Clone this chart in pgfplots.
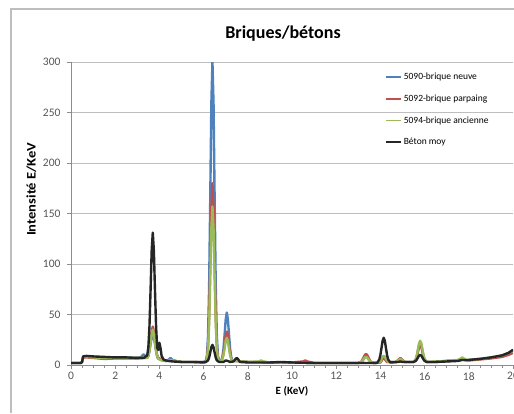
\documentclass[border=0pt]{standalone}
\usepackage{pgfplots}
\pgfplotsset{compat=1.18}
\usepackage{fontspec}
\setmainfont{Carlito}
\definecolor{cblue}{HTML}{4F81BD}
\definecolor{cred}{HTML}{C0504D}
\definecolor{cgreen}{HTML}{9BBB59}
\definecolor{cblack}{HTML}{262626}
\definecolor{gridc}{HTML}{BEBEBE}
\definecolor{axc}{HTML}{8C8C8C}
\definecolor{txtc}{HTML}{555555}
\begin{document}
\begin{tikzpicture}[x=1pt,y=1pt]
\begin{axis}[
  at={(71pt,48pt)}, anchor=south west,
  scale only axis, width=442pt, height=303pt,
  xmin=0, xmax=20, ymin=0, ymax=300,
  xtick={0,2,...,20}, ytick={0,50,...,300},
  minor x tick num=3,
  axis lines=left, axis line style={-, axc, line width=0.8pt},
  tick align=outside, major tick length=4pt, minor tick length=3pt,
  tick style={axc, line width=0.6pt},
  ymajorgrids, grid style={gridc, line width=1pt},
  /pgf/number format/assume math mode=true,
  ticklabel style={font=\fontsize{11.5}{13}\selectfont, text=txtc},
  yticklabel style={xshift=-3pt},
  xlabel={\textbf{E (KeV)}}, ylabel={\textbf{Intensité E/KeV}},
  label style={font=\fontsize{11}{13}\selectfont, text=black},
  xlabel style={yshift=1pt},
  ylabel style={font=\fontsize{13}{15}\selectfont, xscale=1.12, at={(ticklabel cs:0.58)}},
  legend style={draw=none, fill=none, at={(0.71,0.97)}, anchor=north west,
    font=\fontsize{9.5}{11}\selectfont, row sep=9.5pt, inner sep=0pt,
    /tikz/every even column/.append style={column sep=2pt}},
  legend cell align=left,
  legend image code/.code={\draw[#1,line width=1.8pt] (0pt,0pt) -- (15pt,0pt);},
  every axis plot/.append style={line width=2.4pt, line join=round},
  clip=true,
]
\addplot[cblue] coordinates {(0,2)(0.45,2)(0.5,3)(0.55,8)(0.7,8.5)(1,8)(1.5,7.5)(2,7)(2.5,7)(3,7)(3.15,7.5)(3.2,8.5)(3.25,10)(3.3,10.5)(3.35,9)(3.4,7.5)(3.5,9)(3.55,14)(3.6,21)(3.65,27)(3.7,30)(3.75,27)(3.8,21)(3.85,14)(3.9,8)(3.95,6)(4.0,6.5)(4.05,5.5)(4.1,5)(4.3,4)(4.4,5)(4.5,7)(4.6,5)(4.8,3.5)(5,3)(5.5,3)(6,3)(6.1,4)(6.15,9)(6.2,28)(6.25,77)(6.3,163)(6.35,258)(6.4,300)(6.45,258)(6.5,163)(6.55,77)(6.6,28)(6.65,9)(6.7,4.5)(6.8,4)(6.85,8)(6.9,16)(6.95,30)(7.0,45)(7.05,52)(7.1,45)(7.15,30)(7.2,16)(7.25,8)(7.3,4)(7.5,4)(8,3)(8.6,3)(9,2.5)(10,2.5)(11,2)(12,2)(13,2)(13.15,3)(13.25,6)(13.3,8)(13.35,9)(13.4,8)(13.45,6)(13.55,3)(13.7,2)(14,2.5)(14.1,6)(14.15,7)(14.2,6)(14.3,3)(14.7,3)(14.8,4.5)(14.9,6)(15,4.5)(15.1,3)(15.5,3)(15.6,5.5)(15.65,9)(15.7,14.5)(15.75,19.7)(15.8,22)(15.85,19.7)(15.9,14.5)(15.95,9)(16,5.5)(16.1,3)(16.5,3)(17,4)(17.5,4.5)(17.6,5)(17.7,6)(17.8,5)(18,5)(18.5,6)(19,7)(19.5,9)(19.8,12)(20,15)};
\addlegendentry{5090-brique neuve}
\addplot[cred] coordinates {(0,2)(0.45,2)(0.5,3)(0.55,7.5)(0.7,7.5)(1,7)(1.5,6)(2,6.5)(2.5,6.5)(3,6.5)(3.3,7)(3.45,7)(3.5,9.6)(3.55,15)(3.6,24)(3.65,33.5)(3.7,38)(3.75,33.5)(3.8,24)(3.85,15)(3.9,9.6)(3.95,7)(4.0,6.5)(4.1,5)(4.3,4)(4.5,5)(4.7,4)(5,3)(5.5,3)(6,3)(6.1,3)(6.15,7)(6.2,18)(6.25,47)(6.3,99)(6.35,155)(6.4,180)(6.45,155)(6.5,99)(6.55,47)(6.6,18)(6.65,7)(6.7,4)(6.8,4)(6.85,6.5)(6.9,11)(6.95,20)(7.0,29)(7.05,33)(7.1,29)(7.15,20)(7.2,11)(7.25,6.5)(7.3,4)(7.5,4)(8,3)(8.6,3)(9,2.5)(10,2.5)(10.5,3.5)(10.6,4.5)(10.7,3.5)(11,2)(12,2)(13,2)(13.15,3.5)(13.25,8)(13.3,10)(13.35,11)(13.4,10)(13.45,8)(13.55,3.5)(13.7,2)(14,2.5)(14.1,6)(14.15,7)(14.2,6)(14.3,3)(14.7,3)(14.8,5)(14.9,7)(15,5)(15.1,3)(15.5,3)(15.6,5.3)(15.65,8)(15.7,13)(15.75,18)(15.8,20)(15.85,18)(15.9,13)(15.95,8)(16,5.3)(16.1,3)(16.5,3)(17,4)(17.5,4.5)(17.7,5.5)(17.9,4.5)(18,4.5)(18.5,5.5)(19,6.5)(19.5,8)(19.8,10)(20,12)};
\addlegendentry{5092-brique parpaing}
\addplot[cgreen] coordinates {(0,2)(0.45,2)(0.5,3)(0.55,8)(0.7,8)(1,7.5)(1.5,7)(2,7)(2.5,7)(3,7)(3.3,7.5)(3.45,7)(3.5,9)(3.55,14)(3.6,22)(3.65,31)(3.7,35)(3.75,31)(3.8,22)(3.85,14)(3.9,9)(3.95,6)(4.0,5.5)(4.1,4.5)(4.3,4)(4.5,5)(4.7,4)(5,3)(5.5,3)(6,3)(6.1,3)(6.15,6)(6.2,16)(6.25,41)(6.3,86)(6.35,135)(6.4,157)(6.45,135)(6.5,86)(6.55,41)(6.6,16)(6.65,6)(6.7,4)(6.8,4)(6.85,6)(6.9,10)(6.95,16)(7.0,24)(7.05,27)(7.1,24)(7.15,16)(7.2,10)(7.25,6)(7.3,4)(7.5,4)(8,3)(8.5,3.5)(8.6,4.5)(8.7,3.5)(9,2.5)(10,2.5)(11,2)(12,2)(13,2)(13.15,3)(13.25,6)(13.3,7.5)(13.35,8)(13.4,7.5)(13.45,6)(13.55,3)(13.7,2)(14,3)(14.05,6)(14.1,8.5)(14.15,9)(14.2,8.5)(14.25,6)(14.35,3)(14.7,3)(14.8,4.5)(14.9,6)(15,4.5)(15.1,3)(15.5,3)(15.6,5.8)(15.65,9.7)(15.7,15.7)(15.75,21.5)(15.8,24)(15.85,21.5)(15.9,15.7)(15.95,9.7)(16,5.8)(16.1,3)(16.5,3.5)(17,4)(17.5,5)(17.6,6)(17.7,7.5)(17.8,6)(17.9,5)(18,5)(18.5,6)(19,7.5)(19.5,9.5)(19.8,12)(20,14)};
\addlegendentry{5094-brique ancienne}
\addplot[cblack] coordinates {(0,2)(0.45,2)(0.5,3)(0.55,8.5)(0.7,9)(1,8.5)(1.5,8)(2,7.5)(2.5,7.5)(3,7)(3.3,7)(3.45,9.6)(3.5,17.5)(3.55,38)(3.6,74)(3.65,113)(3.7,131)(3.75,113)(3.8,74)(3.85,38)(3.9,17)(3.95,15)(4.0,22)(4.05,17)(4.1,9)(4.2,5)(4.4,4)(4.6,3.5)(5,3)(5.5,3)(6,2.5)(6.1,3)(6.2,4.5)(6.25,7.3)(6.3,12.2)(6.35,17.6)(6.4,20)(6.45,17.6)(6.5,12.2)(6.55,7.3)(6.6,4.5)(6.7,3)(6.9,3)(7.0,4.5)(7.1,4)(7.2,3)(7.35,3.5)(7.45,6)(7.5,7)(7.55,6)(7.65,3)(8,2.5)(9,2.5)(9.5,3)(10,2.5)(11,2)(12,2)(13,2)(13.5,2)(13.85,2)(13.95,5.4)(14.0,10)(14.05,17)(14.1,24)(14.15,27)(14.2,24)(14.25,17)(14.3,10)(14.35,5.4)(14.45,2.5)(14.8,3)(14.9,3.5)(15.0,3)(15.5,3)(15.6,4)(15.65,5.5)(15.7,7.5)(15.75,9.3)(15.8,10)(15.85,9.3)(15.9,7.5)(15.95,5.5)(16.0,4)(16.1,3)(16.5,3)(17,3.5)(17.5,4)(17.7,5)(18,5)(18.5,6)(19,7.5)(19.5,9.5)(19.8,12)(20,15)};
\addlegendentry{Béton moy}
\end{axis}
\node[font=\fontsize{18}{21}\selectfont\bfseries, anchor=base] at (283pt,374pt) {Briques/bétons};
\draw[gridc, line width=1.2pt] (11pt,0pt) -- (11pt,404pt) -- (514pt,404pt);
\pgfresetboundingbox
\useasboundingbox (0pt,0pt) rectangle (514pt,413pt);
\end{tikzpicture}
\end{document}
